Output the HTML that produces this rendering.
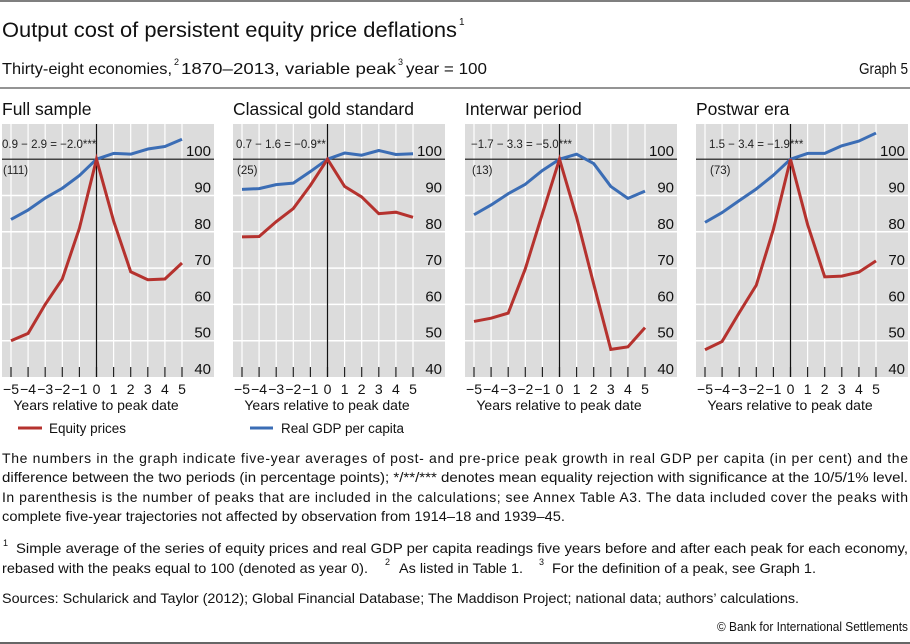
<!DOCTYPE html>
<html><head><meta charset="utf-8"><style>
html,body{margin:0;padding:0;background:#fff;}
svg{display:block;font-family:"Liberation Sans",sans-serif;}
</style></head><body>
<svg id="chart" width="910" height="644" viewBox="0 0 910 644" xmlns="http://www.w3.org/2000/svg">
<line x1="0" y1="1" x2="910" y2="1" stroke="#555" stroke-width="1.5"/>
<text x="2" y="37" font-size="21" fill="#111" textLength="455" lengthAdjust="spacingAndGlyphs">Output cost of persistent equity price deflations</text>
<text x="459" y="25" font-size="10" fill="#111">1</text>
<text x="2" y="74" font-size="16" fill="#111" textLength="170" lengthAdjust="spacingAndGlyphs">Thirty-eight economies,</text>
<text x="174" y="65" font-size="9" fill="#111">2</text>
<text x="181" y="74" font-size="16" fill="#111" textLength="215" lengthAdjust="spacingAndGlyphs">1870–2013, variable peak</text>
<text x="398" y="65" font-size="9" fill="#111">3</text>
<text x="406" y="74" font-size="16" fill="#111" textLength="81" lengthAdjust="spacingAndGlyphs">year = 100</text>
<text x="908" y="74" font-size="16" fill="#111" text-anchor="end" textLength="49" lengthAdjust="spacingAndGlyphs">Graph 5</text>
<line x1="0" y1="88" x2="910" y2="88" stroke="#555" stroke-width="1.2"/>
<g id="panels"></g>
<g>
<line x1="18" y1="428" x2="42" y2="428" stroke="#b5322e" stroke-width="3"/>
<text x="49" y="433" font-size="13.5" fill="#111" textLength="77" lengthAdjust="spacingAndGlyphs">Equity prices</text>
<line x1="250" y1="428" x2="273" y2="428" stroke="#3b6db5" stroke-width="3"/>
<text x="281" y="433" font-size="13.5" fill="#111" textLength="123" lengthAdjust="spacingAndGlyphs">Real GDP per capita</text>
</g>
<g font-size="14" fill="#111">
<text x="2" y="463" textLength="906" lengthAdjust="spacing">The numbers in the graph indicate five-year averages of post- and pre-price peak growth in real GDP per capita (in per cent) and the</text>
<text x="2" y="482" textLength="906" lengthAdjust="spacingAndGlyphs">difference between the two periods (in percentage points); */**/*** denotes mean equality rejection with significance at the 10/5/1% level.</text>
<text x="2" y="502" textLength="906" lengthAdjust="spacing">In parenthesis is the number of peaks that are included in the calculations; see Annex Table A3. The data included cover the peaks with</text>
<text x="2" y="521" textLength="563" lengthAdjust="spacingAndGlyphs">complete five-year trajectories not affected by observation from 1914–18 and 1939–45.</text>
<text x="3" y="546" font-size="9">1</text>
<text x="16" y="553" textLength="892" lengthAdjust="spacingAndGlyphs">Simple average of the series of equity prices and real GDP per capita readings five years before and after each peak for each economy,</text>
<text x="2" y="573" textLength="366" lengthAdjust="spacingAndGlyphs">rebased with the peaks equal to 100 (denoted as year 0).</text>
<text x="385" y="565" font-size="9">2</text>
<text x="399" y="573" textLength="124" lengthAdjust="spacingAndGlyphs">As listed in Table 1.</text>
<text x="539" y="565" font-size="9">3</text>
<text x="552" y="573" textLength="264" lengthAdjust="spacingAndGlyphs">For the definition of a peak, see Graph 1.</text>
<text x="2" y="603" textLength="797" lengthAdjust="spacingAndGlyphs">Sources: Schularick and Taylor (2012); Global Financial Database; The Maddison Project; national data; authors’ calculations.</text>
<text x="908" y="631" font-size="12.5" text-anchor="end" textLength="191" lengthAdjust="spacingAndGlyphs">© Bank for International Settlements</text>
</g>
<line x1="0" y1="643" x2="910" y2="643" stroke="#333" stroke-width="1.5"/>
</svg>
<script>
const years = [-5,-4,-3,-2,-1,0,1,2,3,4,5];
const yTicks = [40,50,60,70,80,90,100];
const panelTitles = ["Full sample","Classical gold standard","Interwar period","Postwar era"];
const panelStats = ["0.9 − 2.9 = −2.0***","0.7  − 1.6 = −0.9**","−1.7 − 3.3 = −5.0***","1.5 − 3.4 = −1.9***"];
const panelCounts = ["(111)","(25)","(13)","(73)"];
const equityFull = [50,52,60,67,81,100,83,69,66.8,67,71.4];
const gdpFull = [83.4,86,89.3,92,95.5,100,101.6,101.4,102.8,103.5,105.5];
const equityGold = [78.6,78.7,82.8,86.4,92.8,100,92.5,89.6,85,85.4,84];
const gdpGold = [91.7,91.9,93,93.4,96.6,100,101.7,101.1,102.4,101.3,101.5];
const equityInterwar = [55.3,56.2,57.6,69.8,85,100,84,65.6,47.6,48.3,53.6];
const gdpInterwar = [84.7,87.4,90.5,93.1,96.9,100,101.4,98.8,92.5,89.2,91.2];
const equityPostwar = [47.5,49.8,57.7,65.3,80.7,100,82,67.6,67.8,68.9,72];
const gdpPostwar = [82.6,85.3,88.6,91.8,95.6,100,101.6,101.6,103.7,105,107.2];
const equitySeries = [equityFull,equityGold,equityInterwar,equityPostwar];
const gdpSeries = [gdpFull,gdpGold,gdpInterwar,gdpPostwar];

const NS="http://www.w3.org/2000/svg";
const root=document.getElementById('panels');
function mk(tag,attrs,parent){const e=document.createElementNS(NS,tag);for(const k in attrs)e.setAttribute(k,attrs[k]);parent.appendChild(e);return e;}
const panelLefts=[2,233,465,696];
const annOffsets=[0,3,6,13];
const plotTop=124, plotBot=377, plotW=212;
const yMin=40, yMax=109.7;
function yPos(v){return plotBot-(v-yMin)/(yMax-yMin)*(plotBot-plotTop);}

panelTitles.forEach((title,i)=>{
  const L=panelLefts[i];
  function xPos(yr){return L+9+(yr+5)*17.1;}
  const g=mk('g',{},root);
  
  
  const t=mk('text',{x:L,y:115,'font-size':17.5,fill:'#111'},g);
  
  
  t.textContent=title;
  const bg=mk('rect',{x:L,y:plotTop,width:plotW,height:plotBot-plotTop,fill:'#dcdcdc'},g);
  
  
  yTicks.forEach(v=>{
    if(v!==100&&v!==40){
      const gl=mk('line',{x1:L,x2:L+plotW,y1:yPos(v),y2:yPos(v),stroke:'#fff','stroke-width':1.5},g);
      
      
    }
  });
  years.forEach(yr=>{
    if(yr!==0){
      const vl=mk('line',{x1:xPos(yr),x2:xPos(yr),y1:plotTop,y2:plotBot,stroke:'#fff','stroke-width':1.2},g);
      
      
    }
    const tk=mk('line',{x1:xPos(yr),x2:xPos(yr),y1:plotBot-10,y2:plotBot,stroke:'#222','stroke-width':1.2},g);
    
    
    const xl=mk('text',{x:xPos(yr),y:394,'font-size':14,fill:'#111','text-anchor':'middle'},g);
    
    
    xl.textContent=(yr<0?'−'+(-yr):String(yr));
  });
  yTicks.forEach(v=>{
    const lb=mk('text',{x:L+209,y:yPos(v)-3,'font-size':15,fill:'#111','text-anchor':'end'},g);
    
    
    lb.textContent=v;
  });
  const h=mk('line',{x1:L,x2:L+plotW,y1:yPos(100),y2:yPos(100),stroke:'#111','stroke-width':1.2},g);
  
  
  const v0=mk('line',{x1:xPos(0),x2:xPos(0),y1:plotTop,y2:plotBot,stroke:'#111','stroke-width':1.2},g);
  
  
  const st=mk('text',{x:L+annOffsets[i],y:148,'font-size':11.5,fill:'#222'},g);
  
  
  st.textContent=panelStats[i];
  const ct=mk('text',{x:L+annOffsets[i]+1,y:174,'font-size':11.5,fill:'#222'},g);
  
  
  ct.textContent=panelCounts[i];
  const gp=mk('polyline',{points:gdpSeries[i].map((v,k)=>xPos(years[k])+','+yPos(v)).join(' '),fill:'none',stroke:'#3b6db5','stroke-width':3,'stroke-linejoin':'round'},g);
  
  
  const ep=mk('polyline',{points:equitySeries[i].map((v,k)=>xPos(years[k])+','+yPos(v)).join(' '),fill:'none',stroke:'#b5322e','stroke-width':3,'stroke-linejoin':'miter'},g);
  
  
  const xt=mk('text',{x:L+94,y:410,'font-size':14,fill:'#111','text-anchor':'middle'},g);
  
  
  xt.textContent='Years relative to peak date';
});
</script>
</body></html>
